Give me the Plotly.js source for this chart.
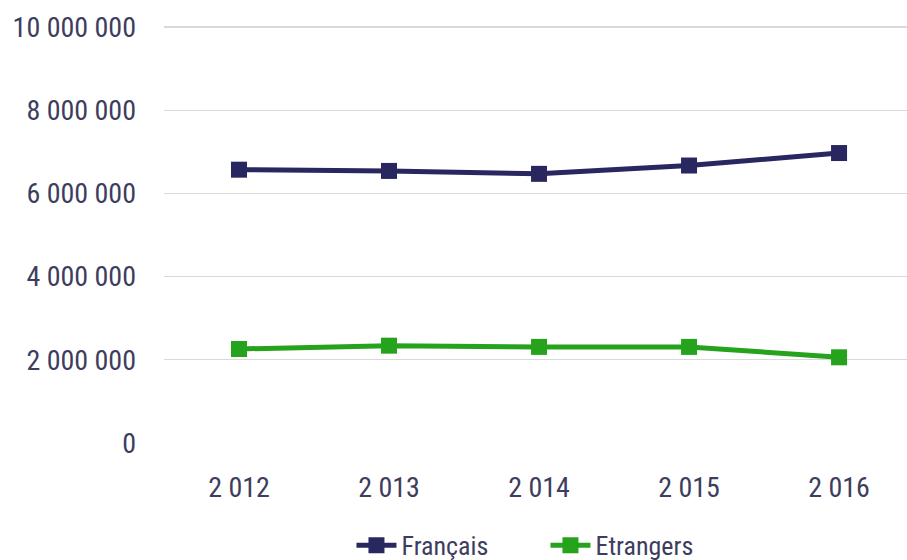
<!DOCTYPE html>
<html><head><meta charset="utf-8">
<script src="https://cdn.plot.ly/plotly-3.0.1.min.js"></script>
<style>html,body{margin:0;padding:0;background:#fff}#c{width:907px;height:560px}</style>
</head><body><div id="c"></div>
<script>
const years = ["2 012", "2 013", "2 014", "2 015", "2 016"];
const francais = [6570000, 6540000, 6470000, 6670000, 6970000];
const etrangers = [2260000, 2340000, 2310000, 2310000, 2060000];
const yTickVals = [0, 2000000, 4000000, 6000000, 8000000, 10000000];
const yTickText = ["0", "2 000 000", "4 000 000", "6 000 000", "8 000 000", "10 000 000"];

const font = "'Liberation Sans Narrow', 'Arial Narrow', 'Roboto Condensed', 'Liberation Sans', Arial, sans-serif";
const txt = "#3d3d5e";

const traces = [
  {x: years, y: francais, name: "Français", type: "scatter", mode: "lines+markers",
   line: {color: "#28275f", width: 5}, marker: {symbol: "square", size: 16, color: "#28275f"}},
  {x: years, y: etrangers, name: "Etrangers", type: "scatter", mode: "lines+markers",
   line: {color: "#26a31d", width: 5}, marker: {symbol: "square", size: 16, color: "#26a31d"}}
];

const layout = {
  width: 907, height: 560,
  margin: {l: 164, r: 0, t: 22, b: 116},
  paper_bgcolor: "#fff", plot_bgcolor: "#fff",
  font: {family: font, size: 27, color: txt},
  showlegend: true,
  legend: {orientation: "h", xref: "container", yref: "container", x: 0.3875, xanchor: "left",
           y: 0.026, yanchor: "middle", entrywidth: 139, entrywidthmode: "pixels",
           font: {family: font, size: 26, color: txt}, itemwidth: 40, traceorder: "normal"},
  xaxis: {type: "category", range: [-0.5, 4.453], showgrid: false, zeroline: false, automargin: false,
          showline: false, ticks: "", ticklabelstandoff: 24, tickfont: {size: 28, color: txt}},
  yaxis: {range: [-24000, 10120000], tickvals: yTickVals, ticktext: yTickText, automargin: false,
          showgrid: true, gridcolor: "#d9d9d9", gridwidth: 1.2, zeroline: false,
          showline: false, ticks: "", ticklabelstandoff: 27, tickfont: {size: 28, color: txt}}
};
Plotly.newPlot("c", traces, layout, {displayModeBar: false, staticPlot: true});
</script></body></html>
